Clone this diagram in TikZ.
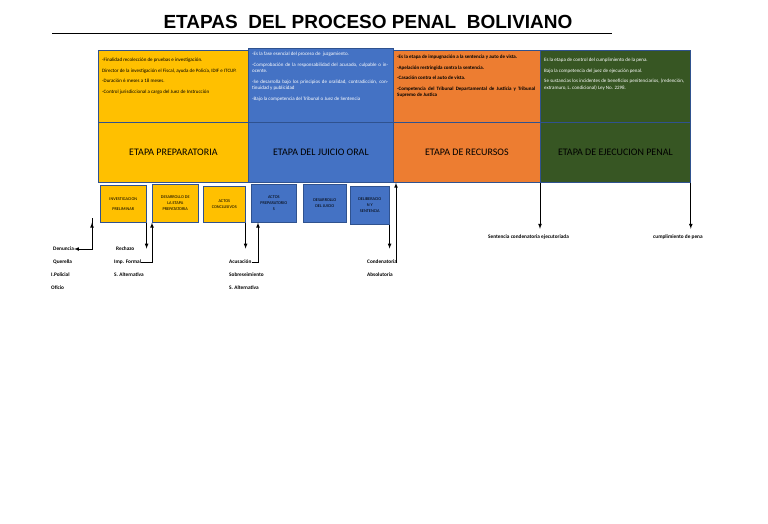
\documentclass[tikz,border=0pt]{standalone}
\usepackage{fontspec}
\setmainfont{Carlito}
\newfontfamily\titlefont{Liberation Sans}
\definecolor{yel}{HTML}{FFC000}
\definecolor{blu}{HTML}{4472C4}
\definecolor{ora}{HTML}{ED7D31}
\definecolor{grn}{HTML}{375623}
\definecolor{edge}{HTML}{2F528F}
\begin{document}
\begin{tikzpicture}[x=1pt,y=-1pt,
 big/.style={draw=edge,line width=0.8pt,anchor=north west,inner sep=0pt},
 info/.style={anchor=north west,text width=#1,align=justify,font=\fontsize{5}{6.5}\selectfont,inner sep=0pt},
 small/.style={draw=edge,line width=0.6pt,anchor=north west,inner sep=0pt,align=center,font=\fontsize{4.3}{6}\selectfont},
 lab/.style={anchor=west,font=\bfseries\fontsize{5.3}{6}\selectfont,inner sep=0pt},
 arr/.style={-latex,line width=0.7pt},
 stage/.style={font=\fontsize{10}{12}\selectfont}]
\useasboundingbox (0,0) rectangle (768,523);
\node (title) at (368,22) {\titlefont\bfseries\fontsize{19}{22}\selectfont ETAPAS\ \ DEL PROCESO PENAL\ \ BOLIVIANO};
\draw[line width=0.6pt] (52,33) -- (612,33);
% top boxes
\node[big,fill=yel,minimum width=150pt,minimum height=72pt] (t1) at (98,50) {};
\node[big,fill=blu,minimum width=145pt,minimum height=74pt] (t2) at (248,48) {};
\node[big,fill=ora,minimum width=147pt,minimum height=72pt] (t3) at (393,50) {};
\node[big,fill=grn,minimum width=150pt,minimum height=72pt] (t4) at (540,50) {};
\node[info=140pt] (i1) at (102,58) {-Finalidad recolección de pruebas e investigación.\\[4pt]Director de la investigación el Fiscal, ayuda de Policía, IDIF e ITCUP.\\[4pt]-Duración 6 meses a 18 meses.\\[4pt]-Control jurisdiccional a cargo del Juez de Instrucción};
\node[info=136pt,text=white] (i2) at (252,52) {-Es la fase esencial del proceso de\ \ juzgamiento.\\[4pt]-Comprobación de la responsabilidad del acusado, culpable o inocente.\\[4pt]-Se desarrolla bajo los principios de oralidad, contradicción, continuidad y publicidad\\[4pt]-Bajo la competencia del Tribunal o Juez de Sentencia};
\node[info=138pt,font=\bfseries\fontsize{5}{6.5}\selectfont] (i3) at (397,55) {-Es la etapa de impugnación a la sentencia y auto de vista.\\[4pt]-Apelación restringida contra la sentencia.\\[4pt]-Casación contra el auto de vista.\\[4pt]-Competencia del Tribunal Departamental de Justicia y Tribunal Supremo de Justica};
\node[info=140pt,text=white] (i4) at (544,58) {Es la etapa de control del cumplimiento de la pena.\\[4pt]Bajo la competencia del juez de ejecución penal.\\[4pt]Se sustancias los incidentes de beneficios penitenciarios, (redención, extramuro, L. condicional) Ley No. 2298.};
% stage boxes
\node[big,fill=yel,minimum width=150pt,minimum height=60pt,stage] (s1) at (98,122) {ETAPA PREPARATORIA};
\node[big,fill=blu,minimum width=145pt,minimum height=60pt,stage] (s2) at (248,122) {ETAPA DEL JUICIO ORAL};
\node[big,fill=ora,minimum width=147pt,minimum height=60pt,stage] (s3) at (393,122) {ETAPA DE RECURSOS};
\node[big,fill=grn,minimum width=150pt,minimum height=60pt,stage] (s4) at (540,122) {ETAPA DE EJECUCION PENAL};
% small boxes
\node[small,fill=yel,minimum width=46pt,minimum height=37pt] (b1) at (100,185) {INVESTIGACION\\[4pt]PRELIMINAR};
\node[small,fill=yel,minimum width=46pt,minimum height=38pt] (b2) at (152,184) {DESARROLLO DE\\LA ETAPA\\PREPATATORIA};
\node[small,fill=yel,minimum width=42pt,minimum height=36pt] (b3) at (203,186) {ACTOS\\CONCLUSIVOS};
\node[small,fill=blu,minimum width=45pt,minimum height=38pt] (b4) at (251,184) {ACTOS\\PREPARATORIO\\S};
\node[small,fill=blu,minimum width=43pt,minimum height=38pt] (b5) at (303,184) {DESARROLLO\\DEL JUICIO};
\node[small,fill=blu,minimum width=39pt,minimum height=38pt] (b6) at (350,186) {DELIBERACIO\\N Y\\SENTENCIA};
% labels
\node[lab] (d1) at (53,249) {Denuncia};
\node[lab] (d2) at (53,262) {Querella};
\node[lab] (d3) at (51,275) {I.Policial};
\node[lab] (d4) at (51,288) {Oficio};
\node[lab] (r1) at (116,249) {Rechazo};
\node[lab] (r2) at (114,262) {Imp. Formal};
\node[lab] (r3) at (114,275) {S. Alternativa};
\node[lab] (a1) at (229,262) {Acusación};
\node[lab] (a2) at (229,275) {Sobreseimiento};
\node[lab] (a3) at (229,288) {S. Alternativa};
\node[lab] (c1) at (367,262) {Condenatoria};
\node[lab] (c2) at (367,275) {Absolutoria};
\node[lab] (e1) at (488,237) {Sentencia condenatoria ejecutoriada};
\node[lab] (e2) at (653,237) {cumplimiento de pena};
% connectors
\draw[arr] (b1.south west) ++(-8,0) coordinate (k1) -- ++(0,0);
\draw[arr] ([xshift=-8pt]b1.south west) |- (d1.east);
\draw[arr] (b1.south east) -- ++(0,26) coordinate (k2);
\draw[arr] (r2.east) -| (b2.south west);
\draw[arr] (b3.south east) -- ++(0,26);
\draw[arr] (a1.east) -| ([xshift=7pt]b4.south west);
\draw[arr] (b6.south east) -- ++(0,24);
\draw[arr] (c1.east) -| ([xshift=3pt]s3.south west);
\draw[arr] (s4.south west) -- ++(0,46);
\draw[arr] (s4.south east) -- ++(0,46);
\end{tikzpicture}
\end{document}
